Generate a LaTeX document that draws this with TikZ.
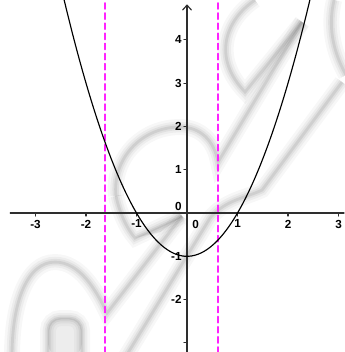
\documentclass[tikz,border=0pt]{standalone}
\usepackage{fontspec}
\setmainfont{Liberation Sans}
\usetikzlibrary{arrows.meta}
\definecolor{axisgray}{HTML}{2E2E2E}
\definecolor{dashpink}{HTML}{FF22FF}
\newcommand{\softedge}[1]{%
  \foreach \w/\o in {9/.03,6/.04,3.6/.055,1.6/.075}{
    \draw[black,opacity=\o,line width=\w pt] #1;
  }%
}

\begin{document}
\begin{tikzpicture}[x=1cm,y=0.8574cm,line cap=round,line join=round,font=\bfseries\fontsize{6.6}{7}\selectfont]
  \path[use as bounding box] (-3.703,-3.210) rectangle (3.109,4.919);
  \fill[white] (-3.703,-3.210) rectangle (3.109,4.919);

  % shadowed watermark behind the graph (pixel grid)
  \begin{scope}[shift={(-3.703,4.919)},x=0.0198cm,y=-0.0198cm,transparency group]
    \softedge{(12,356) .. controls (12,300) and (28,262) .. (55,262) .. controls (80,262) and (96,290) .. (107,313) -- (182,216)}
    \softedge{(116,196) .. controls (120,215) and (128,230) .. (135,238) -- (182,216)}
    \fill[black,opacity=.07] (135,238) -- (182,216) -- (160,232) -- cycle;
    \softedge{(116,196) .. controls (112,160) and (140,127) .. (180,127) .. controls (200,127) and (214,140) .. (218,162) -- (302,22)}
    \softedge{(255,0) .. controls (225,20) and (212,58) .. (245,92) -- (302,22)}
    \softedge{(126,356) -- (210,218) .. controls (225,200) and (245,198) .. (262,190) -- (342,82)}
    \softedge{(334,0) .. controls (328,25) and (332,50) .. (346,75)}
    \fill[black,opacity=.07,rounded corners=7pt] (48,318) rectangle (82,356);
    \softedge{[rounded corners=7pt] (48,356) -- (48,318) -- (82,318) -- (82,356)}
  \end{scope}

  % golden-ratio verticals
  \coordinate (ltop) at (-1.618,4.85);
  \coordinate (lbot) at (-1.618,-3.21);
  \coordinate (rtop) at (0.618,4.85);
  \coordinate (rbot) at (0.618,-3.21);
  \draw[dashpink,opacity=1,line width=1pt,dash pattern=on 3.4pt off 2.3pt] (ltop) -- (lbot);
  \draw[dashpink,opacity=1,line width=1pt,dash pattern=on 3.4pt off 2.3pt] (rtop) -- (rbot);

  % axes
  \coordinate (xstart) at (-3.5,0);
  \coordinate (xend) at (3.109,0);
  \coordinate (ystart) at (0,-3.21);
  \coordinate (yend) at (0,4.82);
  \draw[axisgray,line width=.65pt] (xstart) -- (xend);
  \draw[axisgray,line width=.65pt,-{Straight Barb[length=1mm,width=1.8mm]}] (ystart) -- (yend);
  \foreach \x in {-3,...,3}
    \draw[axisgray,line width=.6pt] (\x,0) -- (\x,-0.07);
  \foreach \y in {-3,...,4}
    \draw[axisgray,line width=.6pt] (0,\y) -- (-0.06,\y);

  \foreach \x in {-3,-2,-1,1,2,3}
    \node[anchor=north,inner sep=0pt] (xl\x) at (\x,-0.15) {\x};
  \node[anchor=north,inner sep=0pt] (xl0) at (0.17,-0.15) {0};
  \foreach \y in {-2,-1,1,2,3,4}
    \node[anchor=east,inner sep=0pt] (yl\y) at (-0.1,\y) {\y};
  \node[anchor=south east,inner sep=0pt] (yl0) at (-0.1,0.05) {0};

  % parabola
  \draw[black,line width=.65pt] plot[domain=-2.435:2.435,samples=80,smooth] (\x,{\x*\x-1});
\end{tikzpicture}
\end{document}
